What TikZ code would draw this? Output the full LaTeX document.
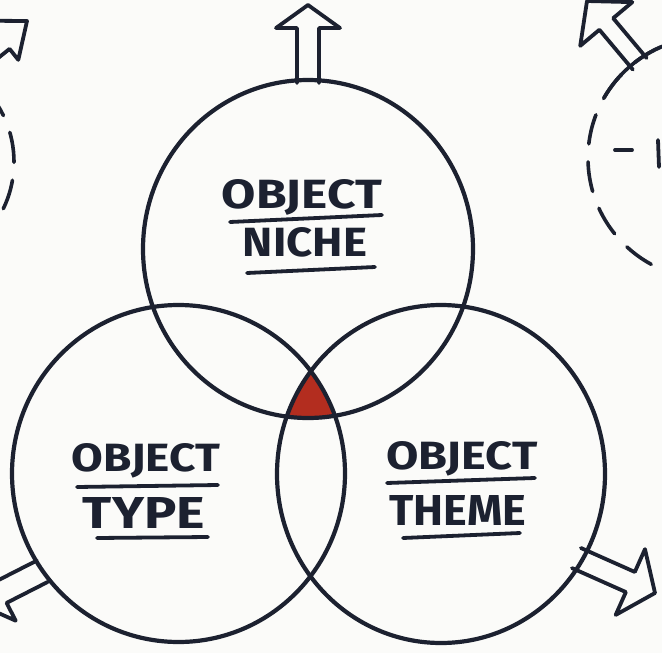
\documentclass[tikz,border=0pt]{standalone}
\usepackage{fontspec}
\setmainfont{Fira Sans}
\usepackage{graphicx}
\definecolor{ink}{HTML}{1C2130}
\definecolor{wine}{HTML}{B32D1F}
\definecolor{paper}{HTML}{FBFBF9}
% tip x, tip y, angle, length, head length, head half width, shaft half width
\newcommand{\blkarrow}[7]{%
  \begin{scope}[shift={(#1,#2)},rotate=#3]
    \draw[arrowline] (-#4,#7) -- (-#5,#7) -- (-#5,#6) -- (0,0) -- (-#5,-#6) -- (-#5,-#7) -- (-#4,-#7);
  \end{scope}}
\newcommand{\wordbox}[3]{\resizebox{#1pt}{#2pt}{\bfseries #3}}
\begin{document}
\begin{tikzpicture}[x=1pt,y=-1pt,
  ring/.style={draw=ink,line width=4.2pt},
  dashring/.style={draw=ink,line width=3.6pt,dash pattern=on 30pt off 18pt,line cap=round},
  arrowline/.style={draw=ink,line width=3.8pt,line join=round,line cap=round},
  uline/.style={draw=ink,line width=3.8pt,line cap=round},
  word/.style={inner sep=0pt,text=ink,anchor=center}]
\useasboundingbox (0,0) rectangle (662,653);
\fill[paper] (0,0) rectangle (662,653);
\clip (0,0) rectangle (662,653);
% red triple intersection
\begin{scope}
  \clip (308,249) ellipse [x radius=165pt, y radius=169pt];
  \clip (178.5,473.5) ellipse [x radius=166.5pt, y radius=168.5pt];
  \fill[wine] (441,474) ellipse [x radius=164pt, y radius=169pt];
\end{scope}
% main circles
\draw[ring] (308,249) ellipse [x radius=165pt, y radius=169pt];
\draw[ring] (178.5,473.5) ellipse [x radius=166.5pt, y radius=168.5pt];
\draw[ring] (441,474) ellipse [x radius=164pt, y radius=169pt];
% dashed side circles
\draw[dashring] (-93,162) circle [radius=107pt];
\draw[dashring] (709,158) circle [radius=121pt];
\draw[ring,line width=3.6pt] (709,158) ++(112:121pt) arc[start angle=112,end angle=150,radius=121pt];
\draw[uline] (615,150) -- (632,150);
\draw[uline] (658,140) -- (659,167);
% block arrows
\blkarrow{308}{5}{90}{78}{23}{32}{11}
\blkarrow{587}{1}{130}{82}{30}{34}{9}
\blkarrow{27}{21}{38.5}{95}{31}{25}{11}
\blkarrow{-22}{604}{207}{72}{26}{32}{12}
\blkarrow{655}{593}{-24}{86}{27}{36}{11}
% labels
\node[word] (n1) at (302,197.5) {\wordbox{160}{29}{OBJECT}};
\node[word] (n2) at (305,242.5) {\wordbox{124}{29}{NICHE}};
\node[word] (t1) at (146,461) {\wordbox{148}{28}{OBJECT}};
\node[word] (t2) at (144,512.5) {\wordbox{122}{31}{TYPE}};
\node[word] (h1) at (462,459) {\wordbox{151}{28}{OBJECT}};
\node[word] (h2) at (458,510) {\wordbox{137}{30}{THEME}};
% underlines
\draw[uline] (230,222) -- (382,215);
\draw[uline] (247,273) -- (375,267);
\draw[uline] (77,487) -- (218,485);
\draw[uline] (97,538) -- (208,537);
\draw[uline] (387,483) -- (535,478);
\draw[uline] (403,538) -- (520,533);
\end{tikzpicture}
\end{document}
